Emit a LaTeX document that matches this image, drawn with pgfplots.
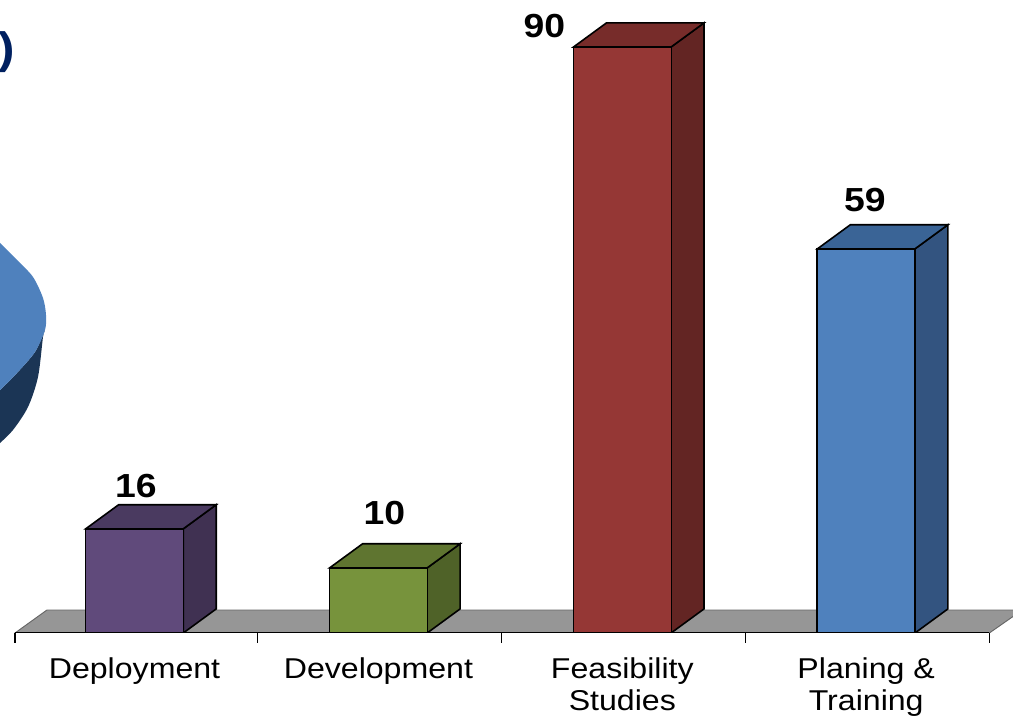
\documentclass[border=0pt]{standalone}
\usepackage{fontspec}
\setmainfont[FakeStretch=1.12]{Liberation Sans}
\usepackage{pgfplots}
\pgfplotsset{compat=1.18}

\definecolor{floorgrey}{HTML}{969696}
\definecolor{purpleF}{HTML}{604A7B}
\definecolor{purpleT}{HTML}{4A3A60}
\definecolor{purpleS}{HTML}{403152}
\definecolor{greenF}{HTML}{77933C}
\definecolor{greenT}{HTML}{5F7530}
\definecolor{greenS}{HTML}{4F6228}
\definecolor{redF}{HTML}{953735}
\definecolor{redT}{HTML}{772C2A}
\definecolor{redS}{HTML}{632523}
\definecolor{blueF}{HTML}{4F81BD}
\definecolor{blueT}{HTML}{3A6496}
\definecolor{blueS}{HTML}{335480}
\definecolor{pieside}{HTML}{1B3555}
\definecolor{navy}{HTML}{002060}

\pgfplotsset{
  face/.style={fill=#1,draw=black,line width=1.2pt,line join=miter,forget plot},
  val/.style={ybar,bar width=73.5pt,bar shift=0pt,fill=#1,draw=black,line width=1.2pt,forget plot,
    nodes near coords,
    /pgf/number format/assume math mode=true},
}

\begin{document}
\begin{tikzpicture}
\path[use as bounding box] (0,0) rectangle (759.75pt,537pt);
\begin{axis}[
    at={(0pt,62.25pt)},
    anchor=south west,
    scale only axis,
    width=759.75pt,
    height=474.75pt,
    xmin=-0.5515, xmax=3.6019,
    ymin=0, ymax=97.22,
    hide y axis,
    axis x line*=bottom,
    x axis line style={draw=none},
    xtick={0,1,2,3},
    xticklabels={Deployment,Development,Feasibility\\Studies,Planing \&\\Training},
    minor xtick={-0.49,0.505,1.505,2.505,3.505},
    major tick length=0pt,
    minor tick length=7.5pt,
    tick align=outside,
    minor tick style={black,line width=0.9pt},
    xticklabel style={font=\fontsize{21.5}{24}\selectfont,align=center,anchor=north,yshift=-15pt},
    nodes near coords style={font=\fontsize{25}{27}\selectfont\bfseries,text=black},
  ]
% floor
\addplot[fill=floorgrey,draw=black!60,line width=0.7pt,forget plot] coordinates {(-0.49,0) (3.505,0) (3.64,3.53) (-0.359,3.53)} -- cycle;
\addplot[black,line width=1.2pt,forget plot] coordinates {(-0.49,0) (3.505,0)};

% left over piece of the pie beside the chart
\addplot[fill=pieside,draw=none,smooth,forget plot] coordinates {(-0.3670,46.54) (-0.3752,45.46) (-0.3957,39.32) (-0.4367,34.71) (-0.4982,31.18) (-0.5515,29.18) (-0.5720,28.57) (-0.5720,36.86) (-0.5515,37.32) (-0.4818,39.93) (-0.4080,43.16) (-0.3670,46.54)};
\addplot[fill=blueF,draw=none,smooth,forget plot] coordinates {(-0.5720,60.67) (-0.5515,59.90) (-0.4818,57.29) (-0.4162,54.68) (-0.3752,51.45) (-0.3629,48.84) (-0.3670,46.54) (-0.4080,43.16) (-0.4818,39.93) (-0.5515,37.32) (-0.5720,36.86)};

% Deployment
\addplot[face=purpleS] coordinates {(0.2,0) (0.335,3.7) (0.335,19.7) (0.2,16)} -- cycle;
\addplot[face=purpleT] coordinates {(-0.2,16) (0.2,16) (0.335,19.7) (-0.065,19.7)} -- cycle;
\addplot[val=purpleF,nodes near coords style={xshift=1pt,yshift=19.5pt}] coordinates {(0,16)};
% Development
\addplot[face=greenS] coordinates {(1.2,0) (1.335,3.7) (1.335,13.7) (1.2,10)} -- cycle;
\addplot[face=greenT] coordinates {(0.8,10) (1.2,10) (1.335,13.7) (0.935,13.7)} -- cycle;
\addplot[val=greenF,nodes near coords style={xshift=4.5pt,yshift=28pt}] coordinates {(1,10)};
% Feasibility Studies
\addplot[face=redS] coordinates {(2.2,0) (2.335,3.7) (2.335,93.7) (2.2,90)} -- cycle;
\addplot[face=redT] coordinates {(1.8,90) (2.2,90) (2.335,93.7) (1.935,93.7)} -- cycle;
\addplot[val=redF,nodes near coords style={xshift=-58.5pt,yshift=3pt}] coordinates {(2,90)};
% Planing & Training
\addplot[face=blueS] coordinates {(3.2,0) (3.335,3.7) (3.335,62.7) (3.2,59)} -- cycle;
\addplot[face=blueT] coordinates {(2.8,59) (3.2,59) (3.335,62.7) (2.935,62.7)} -- cycle;
\addplot[val=blueF,nodes near coords style={xshift=-1pt,yshift=23.5pt}] coordinates {(3,59)};

\node[text=navy,font=\fontsize{33}{36}\selectfont\bfseries,inner sep=0pt] at (axis cs:-0.5228,89.2) {)};
\end{axis}
\end{tikzpicture}
\end{document}
